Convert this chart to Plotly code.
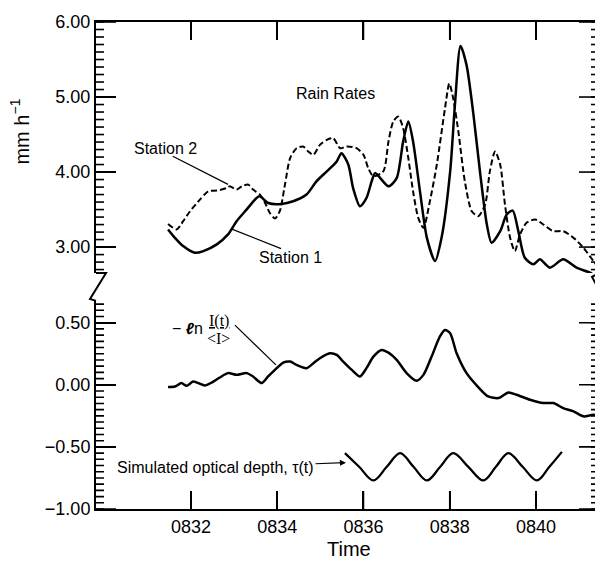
import plotly.graph_objects as go

# ---- Data (time in minutes after 08:00) ----
station1_t = [31.47, 31.63, 31.82, 32.09, 32.29, 32.60, 32.86, 33.06, 33.29, 33.52, 33.60, 33.79,
              34.10, 34.37, 34.68, 34.91, 35.15, 35.38, 35.49, 35.65, 35.76, 35.92, 36.07, 36.19,
              36.27, 36.58, 36.77, 36.92, 37.04, 37.15, 37.31, 37.47, 37.66, 37.81, 38.01, 38.12,
              38.25, 38.39, 38.55, 38.70, 38.86, 38.97, 39.17, 39.32, 39.46, 39.59, 39.74, 39.94,
              40.09, 40.32, 40.63, 40.94, 41.25, 41.48]
station1_v = [3.235, 3.123, 3.013, 2.924, 2.947, 3.036, 3.169, 3.345, 3.500, 3.654, 3.677, 3.588,
              3.575, 3.611, 3.700, 3.876, 4.009, 4.142, 4.252, 4.098, 3.787, 3.544, 3.654, 3.876,
              3.986, 3.810, 3.920, 4.407, 4.673, 4.407, 3.743, 3.123, 2.814, 3.123, 4.009, 4.894,
              5.681, 5.425, 4.762, 4.009, 3.301, 3.057, 3.212, 3.434, 3.487, 3.212, 2.858, 2.770,
              2.837, 2.725, 2.837, 2.725, 2.659, 2.571]

station2_t = [31.47, 31.67, 31.82, 31.98, 32.21, 32.40, 32.60, 32.83, 32.90, 33.06, 33.18, 33.33,
              33.44, 33.60, 33.72, 33.83, 33.95, 34.06, 34.18, 34.30, 34.45, 34.60, 34.72, 34.84,
              34.99, 35.15, 35.30, 35.46, 35.61, 35.84, 36.00, 36.11, 36.23, 36.46, 36.58, 36.69,
              36.81, 36.92, 37.04, 37.15, 37.27, 37.39, 37.54, 37.70, 37.89, 37.99, 38.08, 38.20,
              38.35, 38.51, 38.66, 38.82, 38.93, 39.05, 39.17, 39.28, 39.40, 39.51, 39.63, 39.78,
              39.98, 40.17, 40.40, 40.63, 40.87, 41.10, 41.33, 41.52]
station2_v = [3.309, 3.235, 3.345, 3.478, 3.633, 3.743, 3.753, 3.787, 3.810, 3.766, 3.810, 3.832,
              3.766, 3.700, 3.588, 3.455, 3.381, 3.478, 3.832, 4.185, 4.318, 4.341, 4.274, 4.231,
              4.363, 4.430, 4.451, 4.318, 4.341, 4.318, 4.231, 4.053, 3.943, 4.009, 4.407, 4.673,
              4.739, 4.584, 4.185, 3.743, 3.389, 3.256, 3.611, 4.098, 4.849, 5.181, 4.982, 4.540,
              3.876, 3.478, 3.412, 3.567, 4.009, 4.274, 4.098, 3.567, 3.123, 2.947, 3.169, 3.323,
              3.368, 3.301, 3.212, 3.212, 3.123, 2.991, 2.814, 2.681]

optdepth_t = [31.47, 31.63, 31.78, 31.90, 32.05, 32.17, 32.32, 32.48, 32.67, 32.86, 33.06, 33.29,
              33.44, 33.64, 33.79, 33.99, 34.14, 34.30, 34.45, 34.68, 34.84, 34.99, 35.22, 35.38,
              35.53, 35.73, 35.92, 36.07, 36.23, 36.42, 36.58, 36.77, 37.00, 37.23, 37.39, 37.58,
              37.77, 37.89, 38.01, 38.16, 38.39, 38.66, 38.89, 39.13, 39.36, 39.55, 39.86, 40.17,
              40.40, 40.63, 40.87, 41.10, 41.33, 41.44]
optdepth_v = [-0.018, -0.014, 0.014, -0.008, 0.026, 0.014, -0.006, 0.018, 0.059, 0.094, 0.080, 0.094,
              0.067, 0.014, 0.067, 0.134, 0.179, 0.187, 0.160, 0.134, 0.174, 0.214, 0.254, 0.241,
              0.187, 0.120, 0.067, 0.134, 0.227, 0.281, 0.259, 0.201, 0.094, 0.032, 0.080, 0.227,
              0.387, 0.441, 0.415, 0.254, 0.094, -0.018, -0.094, -0.107, -0.062, -0.080, -0.120, -0.147,
              -0.147, -0.187, -0.214, -0.254, -0.241, -0.249]

tau_t = [35.57, 35.90, 36.23, 36.54, 36.85, 37.16, 37.47, 37.78, 38.08, 38.43, 38.78, 39.07,
         39.36, 39.69, 40.02, 40.31, 40.60]
tau_v = [-0.55, -0.66, -0.77, -0.66, -0.55, -0.66, -0.77, -0.66, -0.55, -0.66, -0.77, -0.66,
         -0.55, -0.66, -0.77, -0.66, -0.54]

time_ticks = [32, 34, 36, 38, 40]
time_labels = ["0832", "0834", "0836", "0838", "0840"]
rain_major = [3, 4, 5, 6]
depth_major = [-1.0, -0.5, 0.0, 0.5]

# ---- Layout constants (page pixels; the page body has an 8px margin) ----
OFF = 8
PAGE_W, PAGE_H = 603, 561
PLOT_L, PLOT_R, PLOT_T, PLOT_B = 96, 599, 20, 509
W, H = PAGE_W - OFF, PAGE_H - OFF
L, T = PLOT_L - OFF, PLOT_T - OFF
R, B = W - (PLOT_R - OFF), H - (PLOT_B - OFF)
PW, PH = PLOT_R - PLOT_L, PLOT_B - PLOT_T
X_RANGE = [29.80, 41.46]
TOP_RANGE = [2.655, 6.0]
BOT_RANGE = [-1.0, 0.676]
top_break_px, bot_break_px = 272, 300
MAJ_LEN, MIN_LEN, X_LEN = 20, 8, 18
TICK_W = 1.6


def px2paper(px, py):
    return (px - PLOT_L) / PW, (PLOT_B - py) / PH


FONT = "Liberation Sans, Arial, sans-serif"

fig = go.Figure()
line_kw = dict(shape="spline", smoothing=0.7)
fig.add_trace(go.Scatter(x=station1_t, y=station1_v, xaxis="x2", yaxis="y2", mode="lines",
                         line=dict(color="black", width=2.5, **line_kw), name="Station 1"))
fig.add_trace(go.Scatter(x=station2_t, y=station2_v, xaxis="x2", yaxis="y2", mode="lines",
                         line=dict(color="black", width=2.0, dash="6px,3px", **line_kw), name="Station 2"))
fig.add_trace(go.Scatter(x=optdepth_t, y=optdepth_v, xaxis="x", yaxis="y", mode="lines",
                         line=dict(color="black", width=2.5, **line_kw), name="optical depth"))
fig.add_trace(go.Scatter(x=tau_t, y=tau_v, xaxis="x", yaxis="y", mode="lines",
                         line=dict(color="black", width=2.3, shape="spline", smoothing=1.0), name="tau"))

top_dom0 = px2paper(0, top_break_px)[1]
bot_dom1 = px2paper(0, bot_break_px)[1]

tickfont = dict(family=FONT, size=18, color="black")
yax_common = dict(showline=True, linecolor="black", linewidth=2, ticks="inside",
                  ticklen=MAJ_LEN, tickwidth=TICK_W, tickcolor="black", showgrid=False,
                  zeroline=False, tickformat=".2f", tickfont=tickfont)

fig.update_layout(
    width=W, height=H,
    margin=dict(l=L, r=R, t=T, b=B, pad=0),
    paper_bgcolor="white", plot_bgcolor="white",
    showlegend=False,
    xaxis=dict(domain=[0, 1], range=X_RANGE, anchor="y", showline=True, linecolor="black",
               linewidth=2, ticks="inside", ticklen=X_LEN, tickwidth=TICK_W, tickcolor="black",
               tickvals=time_ticks, ticktext=time_labels, showgrid=False, zeroline=False,
               tickfont=tickfont),
    xaxis2=dict(domain=[0, 1], range=X_RANGE, anchor="y2", side="top", matches="x",
                showline=True, linecolor="black", linewidth=2, ticks="inside", ticklen=X_LEN,
                tickwidth=TICK_W, tickcolor="black", tickvals=time_ticks, showticklabels=False,
                showgrid=False, zeroline=False),
    yaxis=dict(domain=[0, bot_dom1], range=BOT_RANGE, anchor="x", tickvals=depth_major, **yax_common),
    yaxis2=dict(domain=[top_dom0, 1], range=TOP_RANGE, anchor="x2", tickvals=rain_major, **yax_common),
)

blk = dict(color="black", width=TICK_W)

# right-hand axis lines
fig.add_shape(type="line", xref="paper", yref="paper", x0=1, x1=1, y0=top_dom0, y1=1,
              line=dict(color="black", width=2))
fig.add_shape(type="line", xref="paper", yref="paper", x0=1, x1=1, y0=0, y1=bot_dom1,
              line=dict(color="black", width=2))

# time ticks, bottom and top edges
for t in time_ticks:
    fig.add_shape(type="line", xref="x", yref="paper", x0=t, x1=t, y0=0, y1=X_LEN / PH, line=blk)
    fig.add_shape(type="line", xref="x", yref="paper", x0=t, x1=t, y0=1 - X_LEN / PH, y1=1, line=blk)

# y ticks: minor on both sides, major mirrored on the right
def yticks(yref, lo, hi, step, major):
    n = int(round((hi - lo) / step))
    for i in range(n + 1):
        v = round(lo + i * step, 4)
        for x0, x1 in [(0, MIN_LEN / PW), (1 - MIN_LEN / PW, 1)]:
            fig.add_shape(type="line", xref="paper", yref=yref, x0=x0, x1=x1, y0=v, y1=v, line=blk)
    for v in major:
        fig.add_shape(type="line", xref="paper", yref=yref, x0=0, x1=MAJ_LEN / PW, y0=v, y1=v, line=blk)
        fig.add_shape(type="line", xref="paper", yref=yref, x0=1 - MAJ_LEN / PW, x1=1, y0=v, y1=v, line=blk)

yticks("y2", 2.7, 6.0, 0.1, rain_major)
yticks("y", -1.0, 0.65, 0.05, depth_major)

# Axis break zigzags
def zz(points):
    pts = [px2paper(*p) for p in points]
    return "M " + " L ".join(f"{x:.4f},{y:.4f}" for x, y in pts)

fig.add_shape(type="path", xref="paper", yref="paper",
              path=zz([(96, top_break_px), (106, top_break_px), (90, bot_break_px - 2), (96, bot_break_px)]),
              line=dict(color="black", width=2))
fig.add_shape(type="path", xref="paper", yref="paper",
              path=zz([(599, top_break_px), (592, top_break_px + 4), (603, bot_break_px - 4), (599, bot_break_px)]),
              line=dict(color="black", width=2))

# Pointer lines
fig.add_shape(type="line", xref="x2", yref="y2", x0=31.58, y0=4.21, x1=32.86, y1=3.836,
              line=dict(color="black", width=1.2))
fig.add_shape(type="line", xref="x2", yref="y2", x0=34.09, y0=2.98, x1=32.95, y1=3.239,
              line=dict(color="black", width=1.2))
fig.add_shape(type="line", xref="x", yref="y", x0=33.02, y0=0.481, x1=33.97, y1=0.160,
              line=dict(color="black", width=1.2))

txt = dict(family=FONT, size=16, color="black")
fig.add_annotation(x=35.36, y=5.044, xref="x2", yref="y2", text="Rain Rates", showarrow=False, font=txt)
fig.add_annotation(x=31.42, y=4.314, xref="x2", yref="y2", text="Station 2", showarrow=False, font=txt)
fig.add_annotation(x=34.30, y=2.867, xref="x2", yref="y2", text="Station 1", showarrow=False, font=txt)
fig.add_annotation(x=30.12, y=0.682, xref="x", yref="y", text="Millimeter-wave optical depth",
                   showarrow=False, font=txt, xanchor="left", yanchor="middle")
fig.add_annotation(x=31.92, y=0.455, xref="x", yref="y", text="− <b><i>ℓ</i></b>n",
                   showarrow=False, font=dict(family=FONT, size=16, color="black"))
fig.add_annotation(x=32.65, y=0.515, xref="x", yref="y", text="<u>I(t)</u>",
                   showarrow=False, font=dict(family="Liberation Serif, serif", size=16, color="black"))
fig.add_annotation(x=32.65, y=0.375, xref="x", yref="y", text="&lt;I&gt;",
                   showarrow=False, font=dict(family="Liberation Serif, serif", size=16, color="black"))
fig.add_annotation(x=35.64, y=-0.626, xref="x", yref="y", ax=32.57, ay=-0.666, axref="x", ayref="y",
                   text="Simulated optical depth, τ(t)", showarrow=True, arrowhead=2, arrowsize=1,
                   arrowwidth=1.2, arrowcolor="black", standoff=2, font=txt)

# Axis titles
fig.add_annotation(x=px2paper(20, 0)[0], y=px2paper(0, 130)[1], xref="paper", yref="paper",
                   xanchor="center", yanchor="middle",
                   text="mm h<sup>−1</sup>", textangle=-90, showarrow=False,
                   font=dict(family=FONT, size=20, color="black"))
fig.add_annotation(x=px2paper(349, 0)[0], y=px2paper(0, 549)[1], xref="paper", yref="paper",
                   xanchor="center", yanchor="middle", text="Time",
                   showarrow=False, font=dict(family=FONT, size=20, color="black"))

fig.write_html("out.html")
